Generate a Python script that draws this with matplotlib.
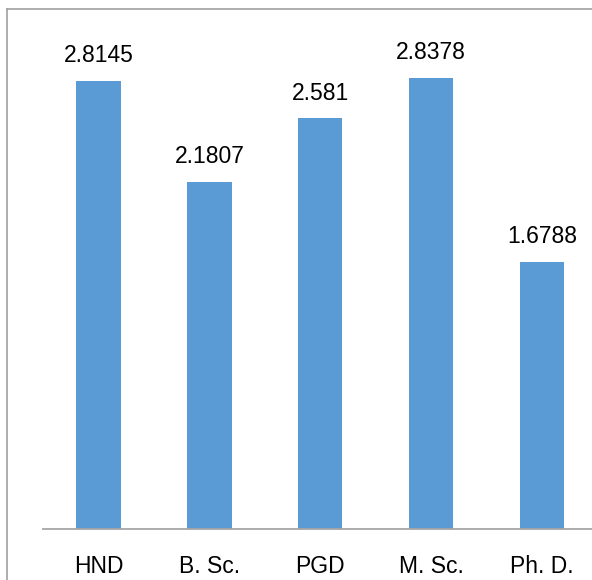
import matplotlib
matplotlib.use("Agg")
import matplotlib.pyplot as plt

categories = ['HND', 'B. Sc.', 'PGD', 'M. Sc.', 'Ph. D.']
values = [2.8145, 2.1807, 2.581, 2.8378, 1.6788]
labels = ['2.8145', '2.1807', '2.581', '2.8378', '1.6788']

plt.rcParams['font.family'] = ['Liberation Sans', 'DejaVu Sans']

fig = plt.figure(figsize=(5.92, 5.80), dpi=100)

# chart border: an empty axes whose left and top spines form the frame
frame = fig.add_axes([6.5 / 592, 0, 1, 1 - 8.5 / 580])
frame.set_xticks([])
frame.set_yticks([])
frame.patch.set_visible(False)
for s in ['bottom', 'right']:
    frame.spines[s].set_visible(False)
for s in ['left', 'top']:
    frame.spines[s].set_color('#a0a0a0')
    frame.spines[s].set_linewidth(1.2)

ax = fig.add_axes([43 / 592, 51 / 580, 549 / 592, 509 / 580])
ax.patch.set_visible(False)

x = range(len(categories))
bars = ax.bar(x, values, width=0.4, color='#5b9bd5', zorder=2)

for b, lab in zip(bars, labels):
    ax.annotate(lab, (b.get_x() + b.get_width() / 2, b.get_height()),
                xytext=(0, 10), textcoords='offset points',
                ha='center', va='bottom', fontsize=16.5, color='black')

ax.set_xlim(-0.5, 4.45)
ax.set_ylim(0, 3.2)
ax.set_xticks(list(x))
ax.set_xticklabels(categories, fontsize=16.5)
ax.tick_params(axis='x', length=0, pad=19)
ax.set_yticks([])
for s in ['top', 'right', 'left']:
    ax.spines[s].set_visible(False)
ax.spines['bottom'].set_color('#a6a6a6')
ax.spines['bottom'].set_linewidth(1.3)

fig.savefig('out.png', dpi=100)
